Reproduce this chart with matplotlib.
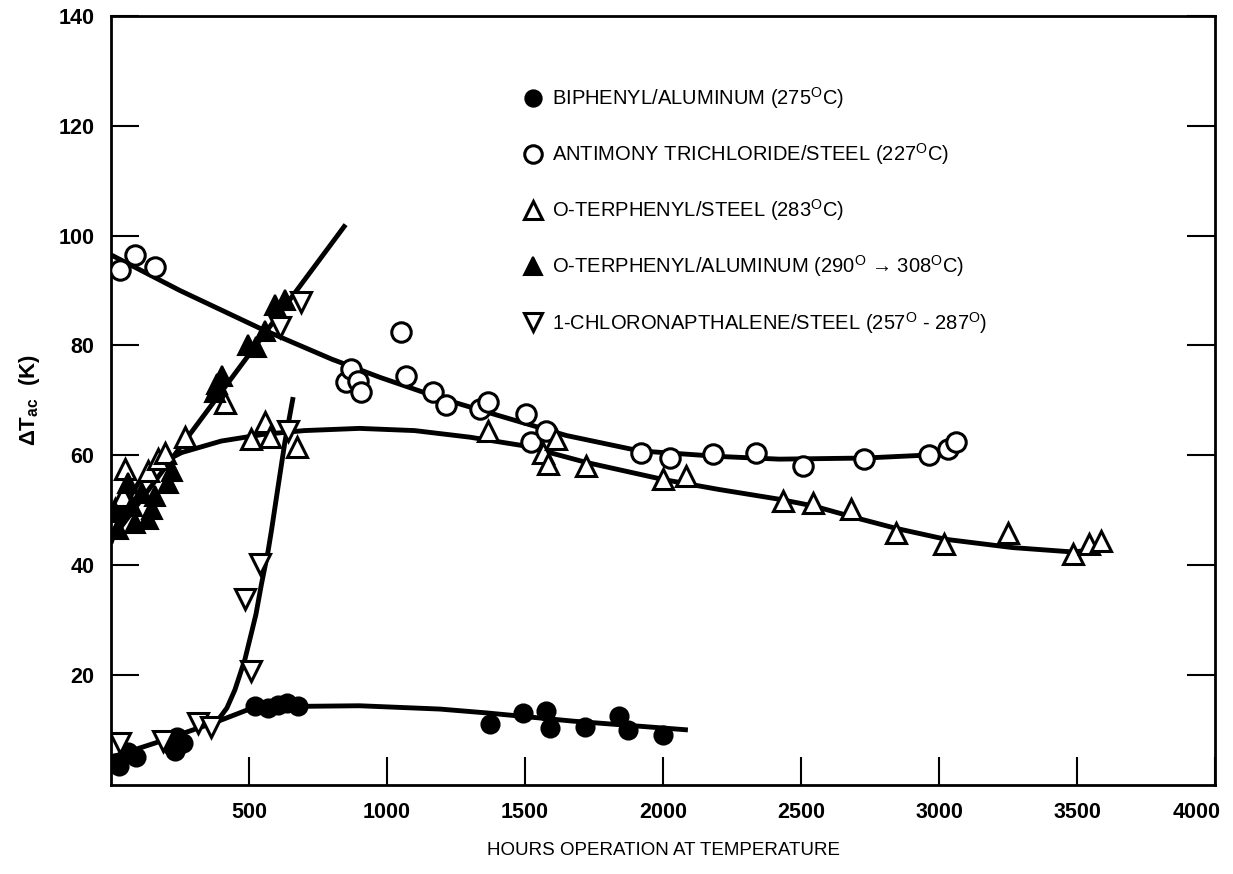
import matplotlib
matplotlib.use('Agg')
import matplotlib.pyplot as plt
from matplotlib.lines import Line2D
from matplotlib.transforms import ScaledTranslation

plt.rcParams['font.family'] = ['Liberation Sans', 'DejaVu Sans']
plt.rcParams['mathtext.fontset'] = 'custom'
plt.rcParams['mathtext.rm'] = 'Liberation Sans'

# --- data (hours, delta T in K) ---
# biphenyl / aluminum, filled circles
bp_h = [15, 30, 60, 90, 220, 238, 262, 232, 521, 569, 606, 636, 678,
        1372, 1493, 1577, 1589, 1716, 1842, 1873, 1999]
bp_v = [4.0, 3.5, 6.0, 5.0, 7.0, 8.8, 7.6, 6.1, 14.3, 14.0, 14.6, 14.9, 14.3,
        11.0, 13.1, 13.4, 10.3, 10.6, 12.5, 10.0, 9.1]

# antimony trichloride / steel, open circles
sb_h = [33, 87, 159, 853, 871, 895, 907, 1052, 1070, 1167, 1215, 1336, 1366,
        1505, 1523, 1577, 1921, 2024, 2180, 2337, 2506, 2729, 2965, 3031, 3061]
sb_v = [93.7, 96.4, 94.3, 73.3, 75.7, 73.6, 71.5, 82.4, 74.5, 71.5, 69.2, 68.4, 69.7,
        67.5, 62.4, 64.5, 60.4, 59.6, 60.2, 60.5, 58.1, 59.3, 60.0, 61.1, 62.5]

# o-terphenyl / steel, open triangles
ts_h = [14, 45, 51, 135, 171, 195, 268, 413, 509, 557, 576, 674, 1366,
        1565, 1583, 1613, 1722, 2000, 2084, 2434, 2543, 2681, 2844, 3019,
        3248, 3484, 3544, 3586]
ts_v = [50.2, 52.6, 57.5, 57.2, 59.3, 60.5, 63.3, 69.6, 63.0, 66.0, 63.3, 61.5, 64.5,
        60.5, 58.4, 63.0, 58.1, 55.7, 56.3, 51.7, 51.4, 50.2, 45.9, 43.8,
        45.9, 42.0, 43.8, 44.4]

# o-terphenyl / aluminum, filled triangles
ta_h = [14, 26, 63, 75, 87, 111, 135, 147, 159, 207, 220, 376, 383, 401,
        497, 527, 557, 594, 630]
ta_v = [49.6, 46.5, 55.0, 50.8, 47.7, 53.2, 48.4, 50.2, 52.6, 55.0, 57.2, 71.5, 73.0, 74.5,
        80.0, 79.7, 82.7, 87.3, 88.2]

# 1-chloronapthalene / steel, inverted triangles
cn_h = [33, 189, 316, 364, 485, 509, 539, 612, 642, 690]
cn_v = [7.6, 7.9, 11.3, 10.6, 33.8, 20.7, 40.2, 83.3, 64.5, 88.0]

# hand-drawn trend curves
bp_line_h = [0, 159, 389, 497, 702, 900, 1191, 1360, 1674, 2090]
bp_line_v = [5.0, 7.6, 11.6, 13.7, 14.3, 14.4, 13.8, 13.1, 11.6, 10.0]
sb_line_h = [0, 250, 545, 800, 974, 1200, 1400, 1650, 1915, 2200, 2421, 2729, 2940]
sb_line_v = [96.5, 90.0, 83.0, 77.5, 74.2, 70.3, 67.3, 63.6, 60.8, 59.8, 59.3, 59.5, 60.0]
ts_line_h = [0, 40, 100, 160, 256, 400, 550, 700, 900, 1100, 1300, 1500, 1722,
             2000, 2200, 2421, 2543, 2700, 2844, 3025, 3266, 3484, 3616]
ts_line_v = [44.0, 50.0, 55.0, 58.0, 60.5, 62.6, 63.8, 64.5, 64.9, 64.5, 63.3, 61.7, 58.7,
             55.6, 53.8, 52.0, 50.8, 48.6, 46.7, 44.7, 43.2, 42.4, 43.1]
ta_line_h = [0, 850]
ta_line_v = [44.5, 102.0]
cn_line_h = [389, 420, 449, 485, 509, 525, 545, 569, 582, 606, 630, 660]
cn_line_v = [11.9, 14.0, 17.3, 22.8, 27.7, 31.0, 36.5, 42.5, 46.5, 54.5, 62.4, 70.6]

x_ticks = [500, 1000, 1500, 2000, 2500, 3000, 3500, 4000]
y_ticks = [20, 40, 60, 80, 100, 120, 140]

labels = [
    'BIPHENYL/ALUMINUM (275$^\\mathregular{O}$C)',
    'ANTIMONY TRICHLORIDE/STEEL (227$^\\mathregular{O}$C)',
    'O-TERPHENYL/STEEL (283$^\\mathregular{O}$C)',
    'O-TERPHENYL/ALUMINUM (290$^\\mathregular{O}$ \u2192 308$^\\mathregular{O}$C)',
    '1-CHLORONAPTHALENE/STEEL (257$^\\mathregular{O}$ - 287$^\\mathregular{O}$)',
]

fig = plt.figure(figsize=(12.33, 8.74), dpi=100)
ax = fig.add_axes([0.090, 0.102, 0.8955, 0.8798])

line_kw = dict(color='black', lw=3.5, zorder=2, solid_capstyle='butt')
for hx, vy in [(bp_line_h, bp_line_v), (sb_line_h, sb_line_v), (ts_line_h, ts_line_v),
               (ta_line_h, ta_line_v), (cn_line_h, cn_line_v)]:
    ax.plot(hx, vy, **line_kw)

styles = [
    dict(marker='o', ms=13, mfc='black', mec='black', mew=1.5),
    dict(marker='o', ms=14, mfc='white', mec='black', mew=2.2),
    dict(marker='^', ms=15, mfc='white', mec='black', mew=2.2),
    dict(marker='^', ms=15, mfc='black', mec='black', mew=1.5),
    dict(marker='v', ms=15, mfc='white', mec='black', mew=2.2),
]
series = [(bp_h, bp_v), (sb_h, sb_v), (ts_h, ts_v), (ta_h, ta_v), (cn_h, cn_v)]
for (hx, vy), st in zip(series, styles):
    ax.plot(hx, vy, ls='none', zorder=3, **st)

handles = [Line2D([], [], ls='none', **st) for st in styles]
ax.legend(handles, labels, loc='upper left', bbox_to_anchor=(0.416, 0.914),
          bbox_transform=fig.transFigure, frameon=False, fontsize=14.5,
          labelspacing=1.5, handlelength=1.0, handletextpad=0.45, borderpad=0,
          markerscale=0.9)

ax.set_xlim(0, 4000)
ax.set_ylim(0, 140)
ax.set_xticks(x_ticks)
ax.set_yticks(y_ticks)
ax.tick_params(direction='in', length=20, width=1.5, right=True, labelsize=15.5, pad=12)
for lab in ax.get_xticklabels() + ax.get_yticklabels():
    lab.set_fontweight('bold')
# last x label sits just inside the right edge, as in the original
last = ax.get_xticklabels()[-1]
last.set_transform(last.get_transform() + ScaledTranslation(-0.18, 0, fig.dpi_scale_trans))
for sp in ax.spines.values():
    sp.set_linewidth(2)

ax.set_xlabel('HOURS OPERATION AT TEMPERATURE', fontsize=13.5, labelpad=14)
ax.set_ylabel('\u0394T$_\\mathregular{ac}$  (K)', fontsize=16, fontweight='bold', labelpad=12)

fig.savefig('out.png', dpi=100)
